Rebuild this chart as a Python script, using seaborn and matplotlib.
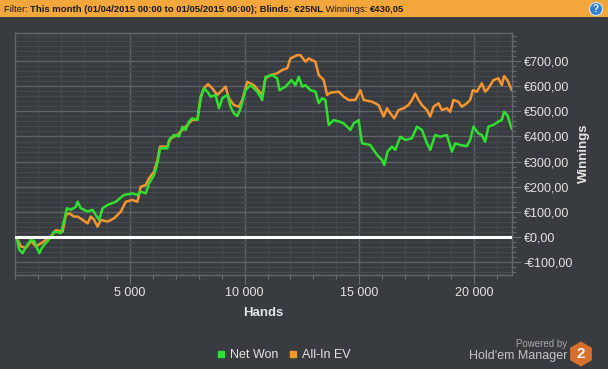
import numpy as np
import pandas as pd
import matplotlib
matplotlib.use("Agg")
import matplotlib.pyplot as plt
import seaborn as sns
from matplotlib.ticker import FuncFormatter, MultipleLocator, FixedLocator
from matplotlib.patches import Rectangle, RegularPolygon, Circle
from matplotlib.lines import Line2D
from matplotlib.transforms import IdentityTransform

# ---------------- data ----------------
net_won_hands = [0, 74, 187, 335, 478, 696, 839, 957, 1057, 1204, 1422, 1565, 1696, 2000, 2074,
                 2144, 2261, 2435, 2652, 2726, 2870, 3161, 3378, 3522, 3665, 3813, 4031, 4391,
                 4752, 5118, 5335, 5478, 5696, 5839, 6057, 6205, 6318, 6639, 6709, 6926, 7144,
                 7292, 7435, 7579, 7726, 7944, 8087, 8231, 8379, 8522, 8739, 8883, 9031, 9248,
                 9392, 9535, 9683, 9826, 10044, 10261, 10553, 10770, 10913, 11205, 11422, 11522,
                 11783, 12044, 12218, 12361, 12509, 12652, 12870, 13087, 13231, 13379, 13522,
                 13666, 13883, 14174, 14318, 14609, 14753, 14970, 15118, 15479, 15770, 15988,
                 16088, 16231, 16422, 16566, 16783, 17001, 17292, 17509, 17727, 17944, 18088,
                 18305, 18523, 18814, 19031, 19175, 19392, 19683, 19827, 19970, 20187, 20335,
                 20479, 20622, 20840, 21057, 21205, 21305, 21449, 21640]
net_won = [0, -4, -50, -63, -37, -11, -15, -42, -63, -37, -15, 0, 22, 17, 42,
           69, 115, 109, 121, 141, 115, 102, 109, 88, 69, 115, 128, 141,
           168, 174, 168, 181, 174, 214, 247, 294, 353, 353, 386, 406, 400,
           439, 426, 459, 472, 466, 552, 591, 578, 558, 565, 512, 552, 565,
           518, 492, 481, 512, 584, 604, 578, 545, 637, 644, 631, 584,
           598, 624, 604, 637, 598, 604, 584, 578, 532, 552, 545,
           446, 465, 458, 452, 426, 452, 465, 373, 366, 327, 307,
           287, 340, 360, 347, 399, 386, 393, 439, 426, 373, 347,
           406, 399, 406, 340, 373, 366, 362, 386, 439, 412, 406,
           379, 439, 446, 459, 466, 498, 485, 430.05]

allin_ev_hands = [0, 74, 261, 478, 696, 913, 1130, 1348, 1565, 1783, 2074, 2217, 2361, 2578, 2726,
                  2944, 3161, 3304, 3448, 3596, 3739, 4031, 4318, 4609, 4826, 5118, 5335, 5478,
                  5696, 5839, 6057, 6205, 6318, 6639, 6783, 7074, 7292, 7509, 7726, 7944, 8087,
                  8231, 8405, 8596, 8813, 8957, 9174, 9318, 9535, 9753, 9900, 10118, 10405,
                  10770, 10913, 11131, 11422, 11640, 11857, 12000, 12292, 12435, 12652, 12796,
                  13087, 13231, 13448, 13596, 13739, 14100, 14318, 14535, 14826, 15044, 15188,
                  15553, 15840, 16057, 16205, 16348, 16522, 16709, 16927, 17144, 17292, 17435,
                  17579, 17727, 17944, 18088, 18231, 18448, 18596, 18814, 18957, 19101, 19318,
                  19466, 19683, 19827, 19944, 20118, 20335, 20479, 20622, 20840, 21057, 21205,
                  21305, 21449, 21640]
allin_ev = [0, -4, -37, -42, -15, -37, -24, -11, 4, 28, 22, 88, 95, 82, 82,
            69, 55, 82, 69, 42, 69, 62, 75, 102, 141, 148, 141, 201,
            207, 234, 260, 307, 360, 360, 393, 406, 426, 446, 466, 466, 558,
            591, 608, 591, 565, 578, 598, 552, 525, 518, 545, 617, 604,
            565, 631, 644, 651, 664, 671, 710, 723, 723, 697, 710,
            697, 644, 624, 565, 574, 578, 558, 545, 545, 584, 545,
            538, 525, 479, 512, 492, 472, 505, 512, 525, 545, 571,
            545, 525, 505, 479, 518, 532, 505, 512, 498, 545, 538,
            518, 532, 545, 584, 578, 611, 578, 591, 624, 631, 604,
            640, 624, 584]

series_names = ["Net Won", "All-In EV"]
x_ticks = [5000, 10000, 15000, 20000]
y_ticks = [-100, 0, 100, 200, 300, 400, 500, 600, 700]

header_pieces = [("Filter: ", "normal"),
                 ("This month (01/04/2015 00:00 to 01/05/2015 00:00); Blinds: €25NL", "bold"),
                 (" Winnings: ", "normal"),
                 ("€430,05", "bold")]

# ---------------- style ----------------
BG = "#383b3f"
GREEN = "#2fe02f"
ORANGE = "#f4952f"
TXT = "#e4e4e4"
W, H = 608, 369

sns.set_theme(style="dark")
plt.rcParams["font.family"] = ["Liberation Sans", "DejaVu Sans"]

df = pd.concat([
    pd.DataFrame({"hands": allin_ev_hands, "value": allin_ev, "series": series_names[1]}),
    pd.DataFrame({"hands": net_won_hands, "value": net_won, "series": series_names[0]}),
], ignore_index=True)

fig = plt.figure(figsize=(W / 100, H / 100), dpi=100)
fig.patch.set_facecolor(BG)
ax = fig.add_axes([15 / W, 1 - 275 / H, (512 - 15) / W, (275 - 33) / H])
ax.set_facecolor(BG)

sns.lineplot(data=df, x="hands", y="value", hue="series",
             hue_order=[series_names[1], series_names[0]],
             palette={series_names[0]: GREEN, series_names[1]: ORANGE},
             estimator=None, sort=False, linewidth=1.8, legend=False, ax=ax)
ax.axhline(0, color="white", lw=2.2, zorder=5)

ax.set_xlim(0, 21650)
ax.set_ylim(-150, 811)

ax.xaxis.set_major_locator(FixedLocator(x_ticks))
ax.xaxis.set_minor_locator(MultipleLocator(1000))
ax.yaxis.set_major_locator(FixedLocator(y_ticks))
ax.yaxis.set_minor_locator(MultipleLocator(20))
ax.xaxis.set_major_formatter(FuncFormatter(lambda v, p: f"{int(v):,}".replace(",", " ")))


def euro(v, p):
    s = f"{abs(v):,.2f}".replace(",", " ").replace(".", ",")
    return ("-€" if v < 0 else "€") + s


ax.yaxis.set_major_formatter(FuncFormatter(euro))
ax.yaxis.tick_right()

ax.grid(which="major", color="#5e6165", lw=1.0)
ax.grid(which="minor", color="#45484c", lw=0.8)
ax.set_axisbelow(True)
for s in ax.spines.values():
    s.set_visible(True)
    s.set_color("#64676b")
    s.set_linewidth(1)

ax.tick_params(axis="both", which="major", length=6.5, width=0.8, color="#6a6d70",
               labelcolor=TXT, labelsize=9, pad=2)
ax.tick_params(axis="both", which="minor", length=3, width=0.8, color="#6a6d70")
ax.tick_params(axis="y", which="both", right=True, left=False)
ax.tick_params(axis="x", which="both", bottom=True, top=False)

ax.set_xlabel("Hands", color=TXT, fontsize=9.5, fontweight="bold")
ax.xaxis.label.set_verticalalignment("center")
ax.xaxis.set_label_coords((263 - 15) / 497, (275 - 313) / 242)
ax.set_ylabel("Winnings", color=TXT, fontsize=9.5, fontweight="bold")
ax.yaxis.set_label_position("right")
ax.yaxis.label.set_verticalalignment("center")
ax.yaxis.set_label_coords((584 - 15) / 497, (275 - 153) / 242)

# ---------------- legend ----------------
handles = [Line2D([], [], marker="s", ls="none", color=GREEN, markersize=5),
           Line2D([], [], marker="s", ls="none", color=ORANGE, markersize=5)]
fig.legend(handles, series_names, loc="center", bbox_to_anchor=(284 / W, 1 - 355 / H),
           ncol=2, frameon=False, fontsize=9, labelcolor=TXT, handlelength=0.6,
           handletextpad=0.4, columnspacing=0.9)

# ---------------- header bar ----------------
fig.add_artist(Rectangle((0, 1 - 17 / H), 1, 17 / H, transform=fig.transFigure,
                         facecolor="#f2a63c", edgecolor="none", zorder=0))
renderer = fig.canvas.get_renderer()
xpos = 4
for txt, wgt in header_pieces:
    t = fig.text(xpos / W, 1 - 9 / H, txt, fontsize=6.8, fontweight=wgt,
                 color="#1a1a1a", ha="left", va="center")
    bb = t.get_window_extent(renderer)
    xpos = bb.x1
fig.add_artist(Circle((596, H - 9), 6.5, transform=IdentityTransform(),
                      facecolor="#2f7fd3", edgecolor="#d0e4f8", lw=0.8))
fig.text(596 / W, 1 - 9 / H, "?", fontsize=7, fontweight="bold", color="white",
         ha="center", va="center")

# ---------------- branding ----------------
fig.text(567 / W, 1 - 344 / H, "Powered by", fontsize=7, color="#a8a8a8",
         ha="right", va="center")
fig.text(567 / W, 1 - 356 / H, "Hold'em Manager", fontsize=9, color="#c4c4c4",
         ha="right", va="center")
fig.add_artist(RegularPolygon((581, H - 354), numVertices=6, radius=12.5,
                              transform=IdentityTransform(), facecolor="#d8702c",
                              edgecolor="none"))
fig.text(581 / W, 1 - 354 / H, "2", fontsize=11, fontweight="bold", color="white",
         ha="center", va="center")

fig.savefig("out.png", dpi=100, facecolor=BG)
